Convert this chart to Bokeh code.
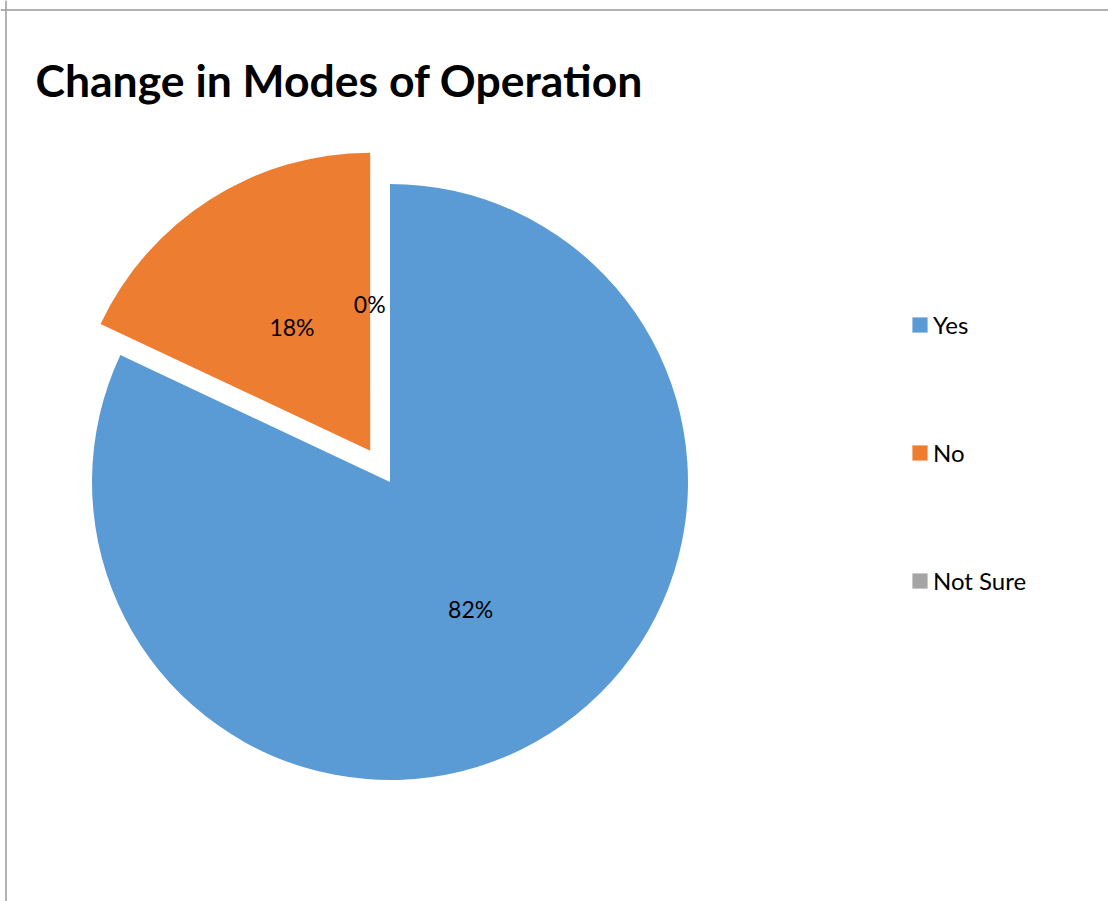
import math
from bokeh.plotting import figure
from bokeh.models import Range1d, Span, Legend, LegendItem, ColumnDataSource, Label
from bokeh.core.properties import value
from bokeh.embed import file_html
from bokeh.resources import INLINE

categories = ["Yes", "No", "Not Sure"]
shares = [82, 18, 0]
label_texts = ["82%", "18%", "0%"]
colors = ["#5B9BD5", "#ED7D31", "#A5A5A5"]
explode = [0, 37, 0]
label_frac = [0.505, 0.49, 0.6]
label_shift_deg = [0, 0, 6.5]

W, H = 1108, 901
cx, cy = 389.5, H - 481.5
R = 298

p = figure(width=W, height=H, output_backend="svg", toolbar_location=None,
           x_range=Range1d(0, W), y_range=Range1d(0, H),
           min_border=0, match_aspect=False)
p.axis.visible = False
p.grid.visible = False
p.outline_line_color = None
p.background_fill_color = "white"
p.border_fill_color = "white"

# border lines
p.add_layout(Span(location=5.5, dimension="height", line_color="#9a9a9a", line_width=1.5))
p.add_layout(Span(location=H - 9.5, dimension="width", line_color="#9a9a9a", line_width=1.5))

total = sum(shares)
start = 90.0
items = []
for cat, s, txt, col, ex, lf, sh in zip(categories, shares, label_texts, colors, explode, label_frac, label_shift_deg):
    sweep = 360.0 * s / total
    a_end = start
    a_start = start - sweep
    mid = math.radians((a_start + a_end) / 2)
    ox = cx + ex * math.cos(mid)
    oy = cy + ex * math.sin(mid)
    src = ColumnDataSource(dict(x=[ox], y=[oy], r=[R if s > 0 else 0],
                                sa=[math.radians(a_start)], ea=[math.radians(a_end)]))
    r = p.wedge(x="x", y="y", radius="r", start_angle="sa", end_angle="ea",
                fill_color=col, line_color=None, source=src)
    items.append(LegendItem(label=cat, renderers=[r]))
    la = mid + math.radians(sh)
    lx = ox + lf * R * math.cos(la)
    ly = oy + lf * R * math.sin(la)
    p.text(x=[lx], y=[ly], text=[txt], text_align="center", text_baseline="middle",
           text_font_size="23px", text_color="#000000", text_font=value("Lato"))
    start = a_start

legend = Legend(items=items, location=(910, 306), orientation="vertical",
                spacing=99, glyph_width=19, glyph_height=19, label_height=26,
                label_text_font="Lato", label_text_font_size="24px",
                label_text_color="#000000", label_standoff=4,
                border_line_color=None, background_fill_alpha=0,
                padding=0, margin=0)
p.add_layout(legend)

p.add_layout(Label(x=35, y=H - 79, x_units="screen", y_units="screen",
                   text="Change in Modes of Operation", text_font="Lato",
                   text_font_style="bold", text_font_size="44.5px",
                   text_baseline="middle", text_color="#000000"))

open("out.html", "w").write(file_html(p, INLINE))
